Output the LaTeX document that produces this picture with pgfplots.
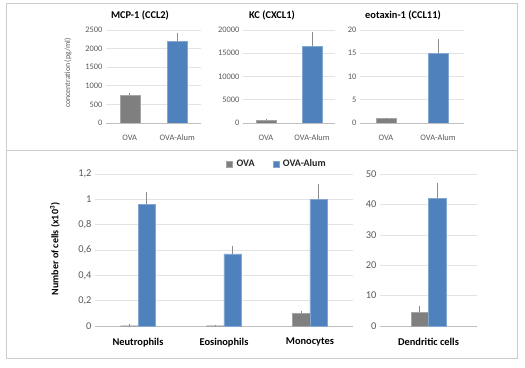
\documentclass[border=0pt]{standalone}
\usepackage{pgfplots}
\pgfplotsset{compat=1.18}
\usepackage{fontspec}
\setmainfont{Carlito}
\definecolor{ovagray}{HTML}{7F7F7F}
\definecolor{alumblue}{HTML}{4F81BD}
\definecolor{ticktxt}{HTML}{595959}
\definecolor{gridc}{HTML}{E3E3E3}
\definecolor{axc}{HTML}{BFBFBF}
\pgfplotsset{
  base/.style={
    scale only axis, anchor=south west,
    /pgf/number format/assume math mode=true,
    /pgf/number format/set thousands separator={},
    scaled y ticks=false,
    separate axis lines,
    axis x line*=bottom, axis y line*=left,
    y axis line style={draw=none},
    x axis line style={draw=axc, line width=0.6pt},
    ymajorgrids, major grid style={draw=gridc, line width=0.6pt},
    ytick style={draw=none},
    xtick style={draw=none},
    ymin=0,
    tick label style={text=ticktxt},
    extra x tick labels={},
    extra x tick style={grid=none, tick style={draw=axc, line width=0.6pt}, tick align=outside, major tick length=4pt},
    error bars/y dir=plus, error bars/y explicit,
    error bars/error mark=none,
    error bars/error bar style={draw=ovagray!90, line width=0.6pt},
  },
  toppanel/.style={
    base, height=93pt, xmin=-0.5, xmax=1.5,
    xtick={0,1}, xticklabels={OVA, OVA-Alum},
    extra x ticks={-0.5,0.5,1.5},
    tick label style={font=\fontsize{8.4}{10}\selectfont},
    xticklabel style={yshift=-4pt},
    ybar, bar width=20pt,
  },
  botpanel/.style={
    base, height=152pt,
    tick label style={font=\fontsize{10.4}{12}\selectfont},
    xticklabel style={font=\fontsize{10.4}{12}\selectfont\bfseries, text=black, yshift=-4pt},
    ybar=0pt, bar width=17.5pt,
  },
}
\begin{document}
\begin{tikzpicture}
\useasboundingbox (0pt,0pt) rectangle (525pt,367pt);
\draw[draw=gridc!90!black, line width=0.7pt] (6pt,9pt) rectangle (517pt,364pt);
\draw[draw=gridc!90!black, line width=0.7pt] (6pt,217pt) -- (517pt,217pt);

% ---- MCP-1
\begin{axis}[toppanel, at={(106pt,244pt)}, width=95pt, ymax=2500, ytick={0,500,...,2500}]
\addplot[fill=ovagray, draw=ovagray!70, bar shift=0pt] coordinates {(0,750) +- (0,50)};
\addplot[fill=alumblue, draw=alumblue!70!white, bar shift=0pt] coordinates {(1,2200) +- (0,220)};
\end{axis}
% ---- KC
\begin{axis}[toppanel, at={(243pt,244pt)}, width=92pt, ymax=20000, ytick={0,5000,...,20000}]
\addplot[fill=ovagray, draw=ovagray!70, bar shift=0pt] coordinates {(0,600) +- (0,300)};
\addplot[fill=alumblue, draw=alumblue!70!white, bar shift=0pt] coordinates {(1,16500) +- (0,3000)};
\end{axis}
% ---- eotaxin
\begin{axis}[toppanel, at={(360pt,244pt)}, width=104pt, ymax=20, ytick={0,5,...,20}]
\addplot[fill=ovagray, draw=ovagray!70, bar shift=0pt] coordinates {(0,1.0) +- (0,0.12)};
\addplot[fill=alumblue, draw=alumblue!70!white, bar shift=0pt] coordinates {(1,15) +- (0,3)};
\end{axis}

\node[font=\fontsize{10.4}{12}\selectfont\bfseries] at (140pt,352pt) {MCP-1 (CCL2)};
\node[font=\fontsize{10.4}{12}\selectfont\bfseries] at (272pt,352pt) {KC (CXCL1)};
\node[font=\fontsize{10.4}{12}\selectfont\bfseries] at (403pt,352pt) {eotaxin-1 (CCL11)};
\node[rotate=90, font=\fontsize{7.8}{9}\selectfont, text=ticktxt] at (68pt,294pt) {concentration (pg/ml)};

% ---- bottom left
\begin{axis}[botpanel, at={(95pt,41pt)}, width=258pt, ymax=1.2,
  xmin=-0.5, xmax=2.5, xtick={0,1,2},
  xticklabels={Neutrophils, Eosinophils, Monocytes},
  extra x ticks={-0.5},
  ytick={0,0.2,0.4,0.6,0.8,1,1.2},
  yticklabels={0,{0,2},{0,4},{0,6},{0,8},1,{1,2}},
  legend columns=2,
  legend style={at={(axis description cs:0.705,1.066)}, anchor=center, draw=none, fill=none,
    font=\fontsize{10}{12}\selectfont\bfseries, text=black!85,
    /tikz/every odd column/.append style={column sep=2pt},
    /tikz/every even column/.append style={column sep=16pt}},
  legend image code/.code={\fill[#1] (0pt,-3pt) rectangle (6pt,3pt);},
]
\addplot[fill=ovagray, draw=ovagray!70] coordinates {(0,0.002) +- (0,0.01) (1,0.002) +- (0,0.008) (2,0.10) +- (0,0.02)};
\addplot[fill=alumblue, draw=alumblue!70!white] coordinates {(0,0.96) +- (0,0.10) (1,0.57) +- (0,0.06) (2,1.00) +- (0,0.12)};
\legend{OVA, OVA-Alum}
\end{axis}
\node[rotate=90, font=\fontsize{10}{12}\selectfont\bfseries] at (55pt,118pt) {Number of cells (x10\textsuperscript{3})};

% ---- bottom right
\begin{axis}[botpanel, at={(380pt,41pt)}, width=97pt, ymax=50,
  xmin=-0.5, xmax=0.5, xtick={0}, xticklabels={Dendritic cells},
  ytick={0,10,...,50},
]
\addplot[fill=ovagray, draw=ovagray!70] coordinates {(0,4.5) +- (0,2)};
\addplot[fill=alumblue, draw=alumblue!70!white] coordinates {(0,42) +- (0,5)};
\end{axis}
\end{tikzpicture}
\end{document}
